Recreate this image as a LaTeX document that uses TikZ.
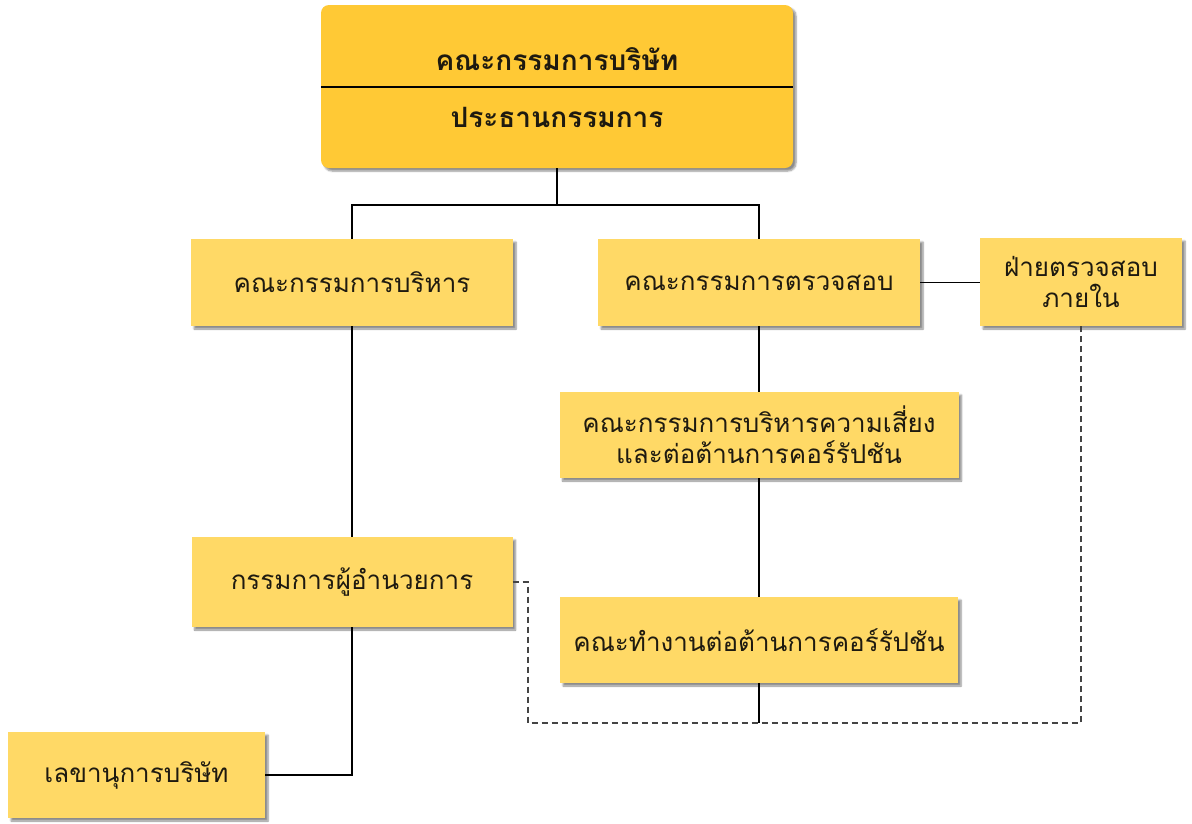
\documentclass[tikz,border=0pt]{standalone}
\usepackage{fontspec}
\newfontfamily\thaifont[Script=Thai]{Loma}
\usetikzlibrary{shadows.blur}
\definecolor{boxfill}{HTML}{FFD966}
\definecolor{topfill}{HTML}{FFC935}
\definecolor{inktext}{HTML}{1E1A10}
\definecolor{dashgray}{HTML}{444444}
\tikzset{
  orgbox/.style={rectangle, fill=boxfill, inner sep=0pt, align=center,
    font=\thaifont\fontsize{26}{31}\selectfont, text=inktext,
    blur shadow={shadow xshift=3pt, shadow yshift=-3pt, shadow blur steps=6, shadow opacity=45}},
  topbox/.style={rectangle, rounded corners=8pt, fill=topfill, inner sep=0pt,
    blur shadow={shadow xshift=3pt, shadow yshift=-3pt, shadow blur steps=6, shadow opacity=45}},
  toptext/.style={font=\thaifont\bfseries\fontsize{28}{32}\selectfont, text=inktext, inner sep=0pt},
  link/.style={draw=black, line width=1.3pt},
  dashlink/.style={draw=dashgray, line width=1.7pt, dash pattern=on 6pt off 4pt}
}
\begin{document}
\begin{tikzpicture}[x=1pt, y=-1pt]
  \useasboundingbox (0,0) rectangle (1192,823);

  % board of directors / chairman
  \node[topbox, minimum width=472pt, minimum height=163pt] (board) at (557,86.5) {};
  \draw[line width=1.3pt] (board.west |- 0,87) -- (board.east |- 0,87) coordinate (divider);
  \node[toptext] (boardname) at (557,59) {คณะกรรมการบริษัท};
  \node[toptext] (chair) at (557,117) {ประธานกรรมการ};

  % committees and units
  \node[orgbox, minimum width=322pt, minimum height=87pt] (exec) at (352,282.5) {คณะกรรมการบริหาร};
  \node[orgbox, minimum width=322pt, minimum height=87pt] (audit) at (759,282.5) {คณะกรรมการตรวจสอบ};
  \node[orgbox, minimum width=202pt, minimum height=88pt] (internal) at (1081,282) {ฝ่ายตรวจสอบ\\ภายใน};
  \node[orgbox, minimum width=399pt, minimum height=86pt] (risk) at (759,435) {คณะกรรมการบริหารความเสี่ยง\\และต่อต้านการคอร์รัปชัน};
  \node[orgbox, minimum width=321pt, minimum height=90pt] (ceo) at (352,582) {กรรมการผู้อำนวยการ};
  \node[orgbox, minimum width=398pt, minimum height=86pt] (work) at (759,640) {คณะทำงานต่อต้านการคอร์รัปชัน};
  \node[orgbox, minimum width=257pt, minimum height=86pt] (secretary) at (136.5,775) {เลขานุการบริษัท};

  % reporting lines
  \coordinate (split) at (557,205);
  \coordinate (loop) at (528,723);
  \draw[link] (board.south) -- (split);
  \draw[link] (exec.north) |- (split) -| (audit.north);
  \draw[link] (audit.east) -- (audit.east -| internal.west);
  \draw[link] (audit.south) -- (risk.north);
  \draw[link] (risk.south) -- (work.north);
  \draw[link] (exec.south) -- (ceo.north);
  \draw[link] (ceo.south) |- (secretary.east);
  \draw[dashlink] (ceo.east) -| (loop) -| (internal.south);
  \draw[link] (work.south) -- (work.south |- loop);
\end{tikzpicture}
\end{document}
